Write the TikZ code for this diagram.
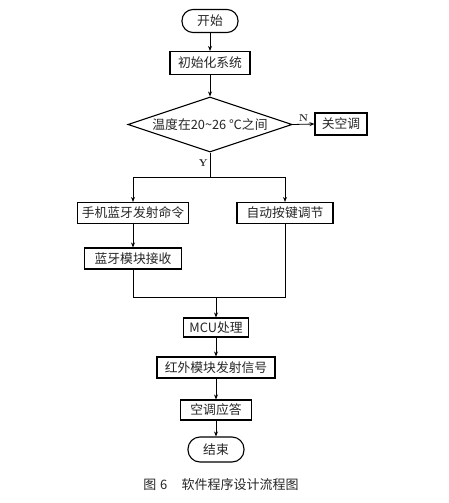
\documentclass[tikz,border=0pt]{standalone}
\usepackage{fontspec}
\newfontfamily\cjk{Noto Sans CJK SC}
\usetikzlibrary{shapes.geometric,arrows.meta,calc}
\begin{document}
\begin{tikzpicture}[x=1pt,y=-1pt,
  every node/.style={font=\cjk\fontsize{12.8}{14}\selectfont, inner sep=0pt, text=black!85},
  box/.style={draw=black, line width=1.1pt, minimum height=21pt, align=center},
  term/.style={draw=black, line width=1.1pt, rounded corners=11pt, minimum height=23pt, minimum width=56pt},
  dec/.style={draw=black, line width=1.1pt, diamond, aspect=2.96, minimum width=164pt, minimum height=55pt},
  arr/.style={line width=0.8pt, -{Stealth[length=5pt,width=4pt]}},
  ln/.style={line width=0.8pt},
  lab/.style={font=\fontsize{10}{12}\selectfont\bfseries}]
\fill[white] (0,0) rectangle (448,503);
\useasboundingbox (0,0) rectangle (448,503);

\node[term] (start) at (210,21) {开始};
\node[box, minimum width=80pt, minimum height=23pt] (init) at (210,63) {初始化系统};
\node[dec] (dec) at (210,124.5) {温度在20\textasciitilde26 ℃之间};
\node[box, minimum width=52pt, minimum height=22pt] (off) at (341,124) {关空调};
\node[box, minimum width=111pt] (phone) at (133,213) {手机蓝牙发射命令};
\node[box, minimum width=96pt] (key) at (285,213) {自动按键调节};
\node[box, minimum width=97pt] (bt) at (133,258.5) {蓝牙模块接收};
\node[box, minimum width=65pt, minimum height=19pt] (mcu) at (216,327.5) {MCU处理};
\node[box, minimum width=118pt] (ir) at (216,367.5) {红外模块发射信号};
\node[box, minimum width=71pt, minimum height=20pt] (ack) at (216,410) {空调应答};
\node[term, minimum height=25pt, rounded corners=12pt] (end) at (216,449.5) {结束};
\node[font=\cjk\fontsize{13}{15}\selectfont] (cap) at (221,485) {图\hspace{0.3em}6\hspace{1.1em}软件程序设计流程图};

\coordinate (split) at (210,177);
\coordinate (splitL) at (133,177);
\coordinate (splitR) at (285,177);
\coordinate (mergeL) at (133,297);
\coordinate (mergeR) at (285,297);
\coordinate (merge) at (216,297);

\draw[arr] (start) -- (init);
\draw[arr] (init) -- (dec);
\draw[arr] (dec.east) -- node[lab, above=2pt] {N} (off.west);
\draw[ln] (dec.south) -- node[lab, left=2pt, pos=0.45] {Y} (split);
\draw[ln] (splitL) -- (splitR);
\draw[arr] (splitL) -- (phone.north);
\draw[arr] (splitR) -- (key.north);
\draw[arr] (phone) -- (bt);
\draw[ln] (bt.south) -- (mergeL) -- (mergeR) -- (key.south);
\draw[arr] (merge) -- (mcu.north);
\draw[arr] (mcu) -- (ir);
\draw[arr] (ir) -- (ack);
\draw[arr] (ack) -- (end);
\end{tikzpicture}
\end{document}
